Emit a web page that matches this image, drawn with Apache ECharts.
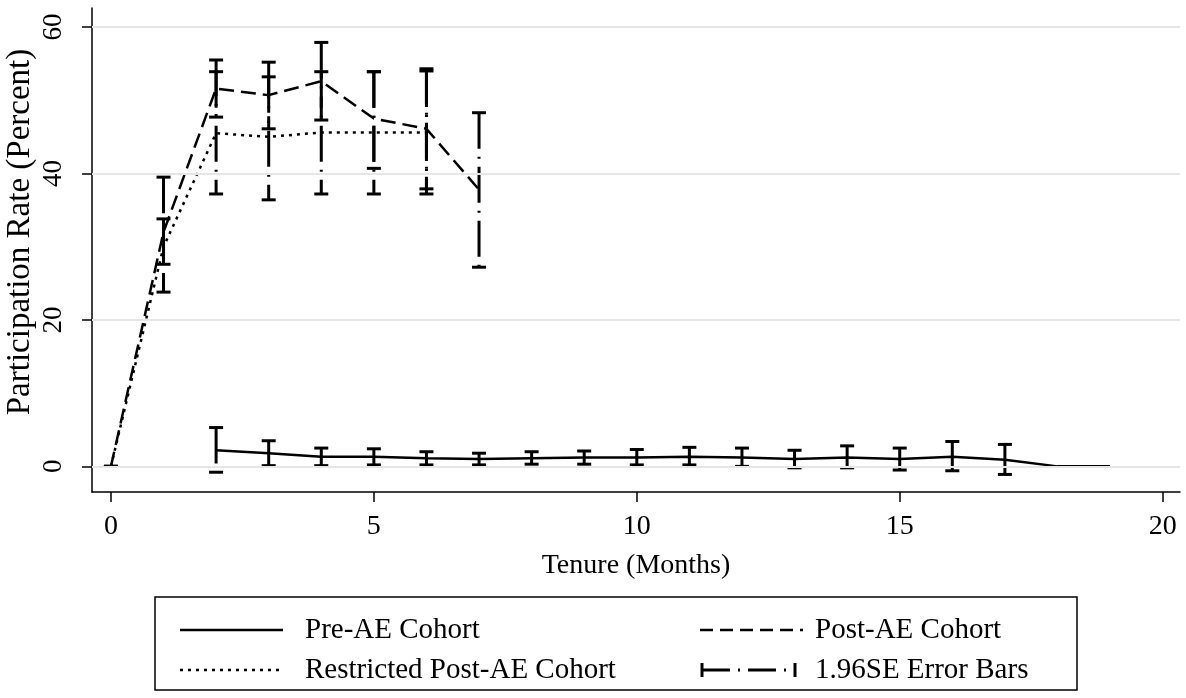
<!DOCTYPE html>
<html>
<head>
<meta charset="utf-8">
<script src="https://cdn.jsdelivr.net/npm/echarts@6/dist/echarts.min.js"></script>
<style>
html,body{margin:0;padding:0;background:#fff;}
#chart{width:1186px;height:698px;}
</style>
</head>
<body>
<div id="chart"></div>
<script>
// ---- data ----
const tenure = [0,1,2,3,4,5,6,7,8,9,10,11,12,13,14,15,16,17,18,19];
const preAE     = [null,null,2.2,1.8,1.3,1.3,1.1,1.0,1.1,1.2,1.2,1.3,1.2,1.0,1.2,1.0,1.3,0.9,0,0];
const preLow    = [null,null,-0.8,0.1,0.1,0.2,0.2,0.2,0.3,0.3,0.2,0.2,0.0,-0.2,-0.2,-0.5,-0.6,-1.1,null,null];
const preHigh   = [null,null,5.3,3.5,2.5,2.4,2.0,1.8,2.0,2.1,2.3,2.6,2.5,2.2,2.8,2.5,3.4,3.0,null,null];
const postAE    = [0,32,51.6,50.7,52.6,47.5,46.1,37.8];
const postLow   = [0,27.6,47.7,46.1,47.3,40.7,37.9,27.2];
const postHigh  = [0,39.5,55.5,55.2,57.9,53.9,54.3,48.3];
const restricted= [0,30,45.5,45.0,45.6,45.6,45.6];
const restLow   = [0,23.8,37.2,36.4,37.2,37.2,37.2];
const restHigh  = [0,33.8,53.9,53.2,53.9,53.9,54.0];
const xTicks = [0,5,10,15,20];
const yTicks = [0,20,40,60];
const legendNames = ['Pre-AE Cohort','Post-AE Cohort','Restricted Post-AE Cohort','1.96SE Error Bars'];

const FONT = '"Liberation Serif","Times New Roman",serif';

function pairs(vals){ const out=[]; vals.forEach((v,i)=>{ if(v!==null) out.push([tenure[i],v]); }); return out; }
function bars(lo,hi){ const out=[]; lo.forEach((v,i)=>{ if(v!==null && hi[i]!==null) out.push([tenure[i],v,hi[i]]); }); return out; }

const ERR_DASH = [36,8,2,8];
function renderErr(params, api){
  const x = api.value(0), lo = api.value(1), hi = api.value(2);
  const pLo = api.coord([x, lo]), pHi = api.coord([x, hi]);
  const hw = 7;
  const cap = {stroke:'#000', lineWidth:3};
  return {type:'group', children:[
    {type:'line', shape:{x1:pHi[0],y1:pHi[1],x2:pLo[0],y2:pLo[1]}, style:{stroke:'#000',lineWidth:3,lineDash:ERR_DASH}},
    {type:'line', shape:{x1:pHi[0]-hw,y1:pHi[1],x2:pHi[0]+hw,y2:pHi[1]}, style:cap},
    {type:'line', shape:{x1:pLo[0]-hw,y1:pLo[1],x2:pLo[0]+hw,y2:pLo[1]}, style:cap}
  ]};
}

const chart = echarts.init(document.getElementById('chart'), null, {renderer:'canvas'});

// legend drawn as graphic (box with line samples)
const LX = 155, LY = 597, LW = 922, LH = 93;
const r1 = 630, r2 = 670;
const c1 = 180, c2 = 700, symW = 103;
const t1 = 305, t2 = 815;
const LFONT = '29px ' + FONT;
const legendGraphic = [
  {type:'rect', shape:{x:LX,y:LY,width:LW,height:LH}, style:{fill:'#fff',stroke:'#000',lineWidth:1.5}},
  {type:'line', shape:{x1:c1,y1:r1,x2:c1+symW,y2:r1}, style:{stroke:'#000',lineWidth:2.5}},
  {type:'text', x:t1, y:r1, style:{text:legendNames[0], font:LFONT, fill:'#000', verticalAlign:'middle'}},
  {type:'line', shape:{x1:c2,y1:r1,x2:c2+symW,y2:r1}, style:{stroke:'#000',lineWidth:2.5,lineDash:[13,7]}},
  {type:'text', x:t2, y:r1, style:{text:legendNames[1], font:LFONT, fill:'#000', verticalAlign:'middle'}},
  {type:'line', shape:{x1:c1,y1:r2,x2:c1+symW,y2:r2}, style:{stroke:'#000',lineWidth:2.5,lineDash:[3,5]}},
  {type:'text', x:t1, y:r2, style:{text:legendNames[2], font:LFONT, fill:'#000', verticalAlign:'middle'}},
  {type:'line', shape:{x1:c2+2,y1:r2,x2:c2+95,y2:r2}, style:{stroke:'#000',lineWidth:3,lineDash:[28,8,2,8]}},
  {type:'line', shape:{x1:c2+2,y1:r2-7,x2:c2+2,y2:r2+7}, style:{stroke:'#000',lineWidth:3}},
  {type:'line', shape:{x1:c2+95,y1:r2-7,x2:c2+95,y2:r2+7}, style:{stroke:'#000',lineWidth:3}},
  {type:'text', x:t2, y:r2, style:{text:legendNames[3], font:LFONT, fill:'#000', verticalAlign:'middle'}}
];

const option = {
  backgroundColor:'#fff',
  animation:false,
  grid:{left:92, right:6, top:8, bottom:206, containLabel:false, outerBoundsMode:'none'},
  xAxis:{
    type:'value', min:-0.36, max:20.33,
    name:'Tenure (Months)', nameLocation:'middle', nameGap:60, nameMoveOverlap:false,
    nameTextStyle:{fontFamily:FONT, fontSize:28, color:'#000'},
    axisLine:{show:true, onZero:false, lineStyle:{color:'#000', width:1.5}},
    axisTick:{show:true, length:10, customValues:xTicks, lineStyle:{color:'#000', width:1.5}},
    axisLabel:{customValues:xTicks, fontFamily:FONT, fontSize:28, color:'#000', margin:21},
    splitLine:{show:false}
  },
  yAxis:{
    type:'value', min:-3.5, max:62.6,
    name:'Participation Rate (Percent)', nameLocation:'middle', nameGap:55, nameRotate:90, nameMoveOverlap:false,
    nameTextStyle:{fontFamily:FONT, fontSize:33, color:'#000', padding:[0,0,0,36]},
    axisLine:{show:true, onZero:false, lineStyle:{color:'#000', width:1.5}},
    axisTick:{show:true, length:10, customValues:yTicks, lineStyle:{color:'#000', width:1.5}},
    axisLabel:{customValues:yTicks, rotate:90, fontFamily:FONT, fontSize:27, color:'#000', margin:25},
    splitLine:{show:false}
  },
  graphic: legendGraphic,
  series:[
    {type:'line', name:'grid', data:[], silent:true,
     markLine:{silent:true, symbol:'none', label:{show:false},
       lineStyle:{color:'#e6e6e6', width:2, type:'solid'},
       data: yTicks.map(v=>({yAxis:v}))}},
    {type:'line', name:legendNames[0], data:pairs(preAE), showSymbol:false, z:3,
     lineStyle:{color:'#000', width:2.5, type:'solid'}},
    {type:'line', name:legendNames[1], data:pairs(postAE), showSymbol:false, z:3,
     lineStyle:{color:'#000', width:2.5, type:[15,7]}},
    {type:'line', name:legendNames[2], data:pairs(restricted), showSymbol:false, z:3,
     lineStyle:{color:'#000', width:2.5, type:[3,5]}},
    {type:'custom', name:legendNames[3], renderItem:renderErr, data:bars(preLow,preHigh), z:4,
     encode:{x:0, y:[1,2]}},
    {type:'custom', name:legendNames[3]+' post', renderItem:renderErr, data:bars(postLow,postHigh), z:4,
     encode:{x:0, y:[1,2]}},
    {type:'custom', name:legendNames[3]+' restricted', renderItem:renderErr, data:bars(restLow,restHigh), z:4,
     encode:{x:0, y:[1,2]}}
  ]
};
chart.setOption(option);
</script>
</body>
</html>
